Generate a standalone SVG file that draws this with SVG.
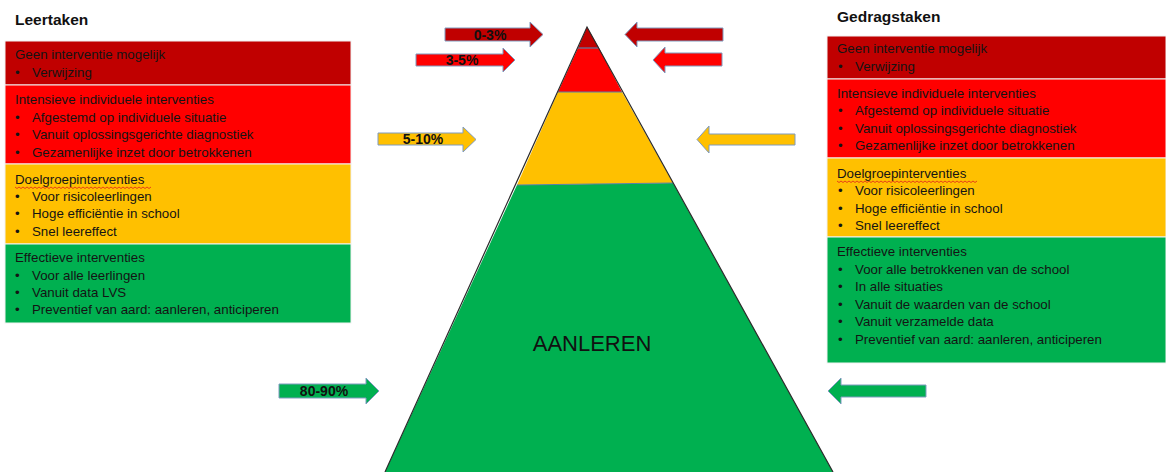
<svg xmlns="http://www.w3.org/2000/svg" width="1166" height="472" viewBox="0 0 1166 472">
<defs>
<style>
.t{font-family:"Liberation Sans",Arial,sans-serif;font-size:13.3px;fill:#141414}
.h{font-family:"Liberation Sans",Arial,sans-serif;font-size:15.5px;font-weight:bold;fill:#111}
.lbl{font-family:"Liberation Sans",Arial,sans-serif;font-size:14px;font-weight:bold;fill:#111;text-anchor:middle}
.big{font-family:"Liberation Sans",Arial,sans-serif;font-size:22px;fill:#111;text-anchor:middle}
.arr{stroke:#7f9bbf;stroke-width:1}
.box{stroke:#f2f2f2;stroke-width:1}
.dr{fill:#C00000}.rd{fill:#FF0000}.ye{fill:#FFC000}.gr{fill:#00B050}
.sq{fill:none;stroke:#e02020;stroke-width:0.8}
</style>
</defs>
<rect width="1166" height="472" fill="#fff"/>

<g id="left-panel">
<text class="h" x="15" y="25">Leertaken</text>
<rect class="box dr" x="5" y="41" width="346" height="44"/>
<rect class="box rd" x="5" y="85" width="346" height="79"/>
<rect class="box ye" x="5" y="164" width="346" height="80"/>
<rect class="box gr" x="5" y="244" width="346" height="79"/>
<text class="t" x="15" y="59">Geen interventie mogelijk</text>
<text class="t" x="15" y="77">•</text><text class="t" x="32" y="77">Verwijzing</text>
<text class="t" x="15" y="104">Intensieve individuele interventies</text>
<text class="t" x="15" y="122">•</text><text class="t" x="32" y="122">Afgestemd op individuele situatie</text>
<text class="t" x="15" y="139">•</text><text class="t" x="32" y="139">Vanuit oplossingsgerichte diagnostiek</text>
<text class="t" x="15" y="157">•</text><text class="t" x="32" y="157">Gezamenlijke inzet door betrokkenen</text>
<text class="t" x="15" y="184">Doelgroepinterventies</text>
<path class="sq" d="M15 187 l2 1.5 l2 -1.5 l2 1.5 l2 -1.5 l2 1.5 l2 -1.5 l2 1.5 l2 -1.5 l2 1.5 l2 -1.5 l2 1.5 l2 -1.5 l2 1.5 l2 -1.5 l2 1.5 l2 -1.5 l2 1.5 l2 -1.5 l2 1.5 l2 -1.5 l2 1.5 l2 -1.5 l2 1.5 l2 -1.5 l2 1.5 l2 -1.5 l2 1.5 l2 -1.5 l2 1.5 l2 -1.5 l2 1.5 l2 -1.5 l2 1.5 l2 -1.5 l2 1.5 l2 -1.5 l2 1.5 l2 -1.5 l2 1.5 l2 -1.5 l2 1.5 l2 -1.5 l2 1.5 l2 -1.5 l2 1.5 l2 -1.5 l2 1.5 l2 -1.5 l2 1.5 l2 -1.5 l2 1.5 l2 -1.5 l2 1.5 l2 -1.5 l2 1.5 l2 -1.5 l2 1.5 l2 -1.5 l2 1.5 l2 -1.5 l2 1.5 l2 -1.5 l2 1.5 l2 -1.5 l2 1.5 l2 -1.5 l2 1.5 l2 -1.5"/>
<text class="t" x="15" y="201">•</text><text class="t" x="32" y="201">Voor risicoleerlingen</text>
<text class="t" x="15" y="218">•</text><text class="t" x="32" y="218">Hoge efficiëntie in school</text>
<text class="t" x="15" y="236">•</text><text class="t" x="32" y="236">Snel leereffect</text>
<text class="t" x="15" y="262">Effectieve interventies</text>
<text class="t" x="15" y="280">•</text><text class="t" x="32" y="280">Voor alle leerlingen</text>
<text class="t" x="15" y="297">•</text><text class="t" x="32" y="297">Vanuit data LVS</text>
<text class="t" x="15" y="314">•</text><text class="t" x="32" y="314">Preventief van aard: aanleren, anticiperen</text>
</g>

<g id="right-panel">
<text class="h" x="837" y="22">Gedragstaken</text>
<rect class="box dr" x="827" y="36" width="339" height="43"/>
<rect class="box rd" x="827" y="79" width="339" height="79"/>
<rect class="box ye" x="827" y="158" width="339" height="79"/>
<rect class="box gr" x="827" y="237" width="339" height="126"/>
<text class="t" x="837" y="53">Geen interventie mogelijk</text>
<text class="t" x="838" y="71">•</text><text class="t" x="855" y="71">Verwijzing</text>
<text class="t" x="837" y="98">Intensieve individuele interventies</text>
<text class="t" x="838" y="115">•</text><text class="t" x="855" y="115">Afgestemd op individuele situatie</text>
<text class="t" x="838" y="133">•</text><text class="t" x="855" y="133">Vanuit oplossingsgerichte diagnostiek</text>
<text class="t" x="838" y="150">•</text><text class="t" x="855" y="150">Gezamenlijke inzet door betrokkenen</text>
<text class="t" x="837" y="178">Doelgroepinterventies</text>
<path class="sq" d="M837 181 l2 1.5 l2 -1.5 l2 1.5 l2 -1.5 l2 1.5 l2 -1.5 l2 1.5 l2 -1.5 l2 1.5 l2 -1.5 l2 1.5 l2 -1.5 l2 1.5 l2 -1.5 l2 1.5 l2 -1.5 l2 1.5 l2 -1.5 l2 1.5 l2 -1.5 l2 1.5 l2 -1.5 l2 1.5 l2 -1.5 l2 1.5 l2 -1.5 l2 1.5 l2 -1.5 l2 1.5 l2 -1.5 l2 1.5 l2 -1.5 l2 1.5 l2 -1.5 l2 1.5 l2 -1.5 l2 1.5 l2 -1.5 l2 1.5 l2 -1.5 l2 1.5 l2 -1.5 l2 1.5 l2 -1.5 l2 1.5 l2 -1.5 l2 1.5 l2 -1.5 l2 1.5 l2 -1.5 l2 1.5 l2 -1.5 l2 1.5 l2 -1.5 l2 1.5 l2 -1.5 l2 1.5 l2 -1.5 l2 1.5 l2 -1.5 l2 1.5 l2 -1.5 l2 1.5 l2 -1.5 l2 1.5 l2 -1.5 l2 1.5 l2 -1.5 l2 1.5 l2 -1.5"/>
<text class="t" x="838" y="195">•</text><text class="t" x="855" y="195">Voor risicoleerlingen</text>
<text class="t" x="838" y="213">•</text><text class="t" x="855" y="213">Hoge efficiëntie in school</text>
<text class="t" x="838" y="230">•</text><text class="t" x="855" y="230">Snel leereffect</text>
<text class="t" x="837" y="256">Effectieve interventies</text>
<text class="t" x="838" y="274">•</text><text class="t" x="855" y="274">Voor alle betrokkenen van de school</text>
<text class="t" x="838" y="291">•</text><text class="t" x="855" y="291">In alle situaties</text>
<text class="t" x="838" y="309">•</text><text class="t" x="855" y="309">Vanuit de waarden van de school</text>
<text class="t" x="838" y="326">•</text><text class="t" x="855" y="326">Vanuit verzamelde data</text>
<text class="t" x="838" y="344">•</text><text class="t" x="855" y="344">Preventief van aard: aanleren, anticiperen</text>
</g>

<g id="pyramid">
<polygon class="gr" points="517,185 673,183 833,472 385,472"/>
<polygon class="ye" points="558,92 622,92 673,183 517,185"/>
<polygon class="rd" points="578,48 599,48 622,92 558,92"/>
<polygon class="dr" points="587,27 599,48 578,48"/>
<g fill="none" stroke="#5b7fa6" stroke-width="1.2">
<line x1="578" y1="48" x2="599" y2="48"/>
<line x1="558" y1="92" x2="622" y2="92"/>
<line x1="517" y1="185" x2="673" y2="183"/>
</g>
<polyline points="385,472 587,27 833,472" fill="none" stroke="#2b2b2b" stroke-width="1.2"/>
<text class="big" x="592" y="351">AANLEREN</text>
</g>

<g id="connectors">
<polygon class="arr dr" points="445,28 530,28 530,22 543,34.5 530,47 530,41 445,41"/>
<polygon class="arr rd" points="416,54 503,54 503,48 515,60 503,72 503,66 416,66"/>
<polygon class="arr ye" points="378,133 463,133 463,127 476,139.5 463,152 463,145 378,145"/>
<polygon class="arr gr" points="279,384 366,384 366,378 379,391 366,404 366,398 279,398"/>
<polygon class="arr dr" points="723,28 637,28 637,22 625,34.5 637,47 637,41 723,41"/>
<polygon class="arr rd" points="722,53 665,53 665,47 653,60 665,73 665,66 722,66"/>
<polygon class="arr ye" points="795,134 709,134 709,126 697,139.5 709,153 709,145 795,145"/>
<polygon class="arr gr" points="926,385 841,385 841,378 828,391 841,404 841,397 926,397"/>
<text class="lbl" x="490" y="40">0-3%</text>
<text class="lbl" x="462" y="65">3-5%</text>
<text class="lbl" x="423" y="144">5-10%</text>
<text class="lbl" x="324" y="396">80-90%</text>
</g>
</svg>
